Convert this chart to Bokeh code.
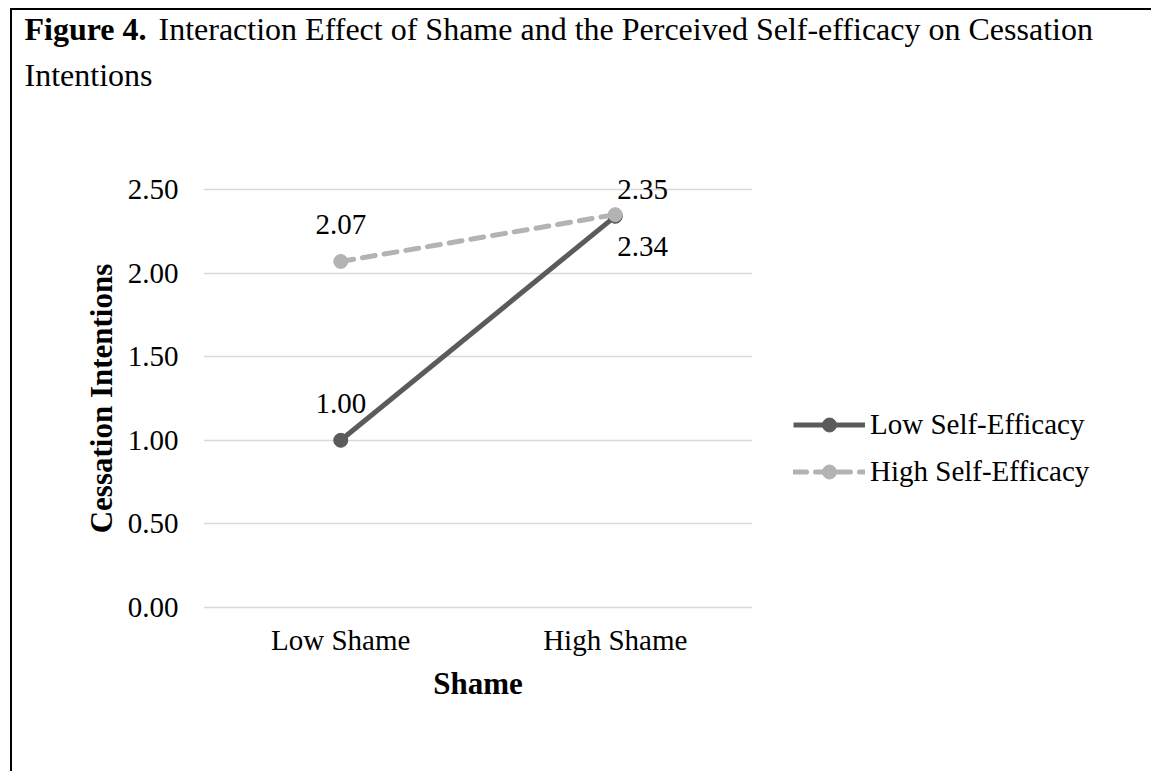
from bokeh.plotting import figure
from bokeh.models import (FactorRange, Range1d, Label, Legend, LegendItem,
                          FixedTicker, NumeralTickFormatter)
from bokeh.core.properties import value
from bokeh.embed import file_html
from bokeh.resources import INLINE

# ---------------- data ----------------
categories = ["Low Shame", "High Shame"]
low_self_efficacy = [1.00, 2.34]
high_self_efficacy = [2.07, 2.35]
series_names = ["Low Self-Efficacy", "High Self-Efficacy"]
y_ticks = [0.0, 0.5, 1.0, 1.5, 2.0, 2.5]
title_bold = "Figure 4."
title_rest_line1 = "Interaction Effect of Shame and the Perceived Self-efficacy on Cessation"
title_rest_line2 = "Intentions"
x_title = "Shame"
y_title = "Cessation Intentions"

# ---------------- style ----------------
FONT = "Liberation Serif"
TXT = "29px"
AX_TITLE = "31px"
DARK = "#5b5b5b"
LIGHT = "#b3b3b3"
GRID = "#d9d9d9"

p = figure(frame_width=549, frame_height=468,
           x_range=FactorRange(factors=categories, range_padding=0),
           y_range=Range1d(-0.15, 2.65),
           output_backend="svg", toolbar_location=None,
           min_border_left=191, min_border_right=399,
           min_border_top=154, min_border_bottom=139)
p.outline_line_color = None
p.background_fill_color = "white"
p.border_fill_color = "white"
p.styles = {"margin-left": "10px", "margin-top": "8px",
            "border-left": "2px solid black", "border-top": "2px solid black"}

# axes
p.yaxis.ticker = FixedTicker(ticks=y_ticks)
p.yaxis.formatter = NumeralTickFormatter(format="0.00")
for ax in (p.xaxis[0], p.yaxis[0]):
    ax.major_tick_line_color = None
    ax.minor_tick_line_color = None
    ax.major_tick_out = 0
    ax.major_tick_in = 0
    ax.minor_tick_out = 0
    ax.minor_tick_in = 0
    ax.major_label_text_font = FONT
    ax.major_label_text_font_size = TXT
    ax.major_label_text_color = "black"
    ax.axis_label_text_font = FONT
    ax.axis_label_text_font_size = AX_TITLE
    ax.axis_label_text_font_style = "bold"
    ax.axis_label_text_color = "black"
p.yaxis.axis_line_color = None
p.xaxis.axis_line_color = None
p.yaxis.major_label_standoff = 25
p.xaxis.major_label_standoff = -9
p.yaxis.axis_label = y_title
p.xaxis.axis_label = x_title
p.yaxis.axis_label_standoff = 6
p.xaxis.axis_label_standoff = 7

p.xgrid.grid_line_color = None
p.ygrid.grid_line_color = GRID
p.ygrid.grid_line_width = 1.5

# series
l1 = p.line(categories, low_self_efficacy, line_color=DARK, line_width=5)
s1 = p.scatter(categories, low_self_efficacy, size=14, fill_color=DARK, line_color=DARK)
l2 = p.line(categories, high_self_efficacy, line_color=LIGHT, line_width=5,
            line_dash="13 9", line_cap="round")
s2 = p.scatter(categories, high_self_efficacy, size=14, fill_color=LIGHT, line_color=LIGHT)

# data labels
def dlabel(cat, val, dx, dy, align):
    p.text(x=[cat], y=[val], text=[f"{val:.2f}"], x_offset=dx, y_offset=dy,
           text_align=align, text_baseline="alphabetic",
           text_font=value(FONT), text_font_size=TXT, text_color="black")

dlabel(categories[0], high_self_efficacy[0], 0, -37, "center")
dlabel(categories[0], low_self_efficacy[0], 0, -37, "center")
dlabel(categories[1], high_self_efficacy[1], 2, -25, "left")
dlabel(categories[1], low_self_efficacy[1], 2, 30, "left")

# legend (in the right side panel)
legend = Legend(items=[LegendItem(label=series_names[0], renderers=[l1, s1]),
                       LegendItem(label=series_names[1], renderers=[l2, s2])],
                location=(41, 143), orientation="vertical",
                padding=0, margin=0, spacing=12,
                glyph_width=72, glyph_height=35, label_standoff=5,
                label_text_font=FONT, label_text_font_size=TXT,
                label_text_color="black",
                border_line_color=None, background_fill_alpha=0)
p.add_layout(legend, "right")

# title (figure caption)
for lab in (Label(x=10, y=16, x_units="canvas", y_units="canvas", text=title_bold,
                  text_font=FONT, text_font_size="32px", text_font_style="bold",
                  text_baseline="alphabetic", text_color="black"),
            Label(x=144, y=16, x_units="canvas", y_units="canvas", text=title_rest_line1,
                  text_font=FONT, text_font_size="32px",
                  text_baseline="alphabetic", text_color="black"),
            Label(x=10, y=62, x_units="canvas", y_units="canvas", text=title_rest_line2,
                  text_font=FONT, text_font_size="32px",
                  text_baseline="alphabetic", text_color="black")):
    p.add_layout(lab, "above")

open("out.html", "w").write(file_html(p, INLINE))
